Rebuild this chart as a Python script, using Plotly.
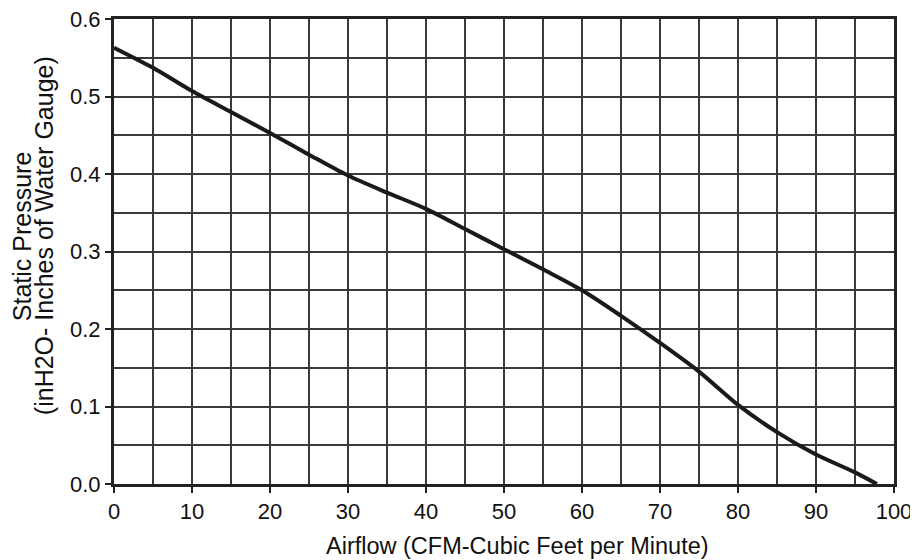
import plotly.graph_objects as go

airflow = [0, 5, 10, 15, 20, 25, 30, 35, 40, 45, 50, 55, 60, 65, 70, 75, 80, 85, 90, 95, 97.8]
pressure = [0.563, 0.537, 0.507, 0.480, 0.453, 0.425, 0.398, 0.376, 0.355, 0.329, 0.303,
            0.277, 0.250, 0.217, 0.182, 0.145, 0.102, 0.067, 0.038, 0.015, 0.0]

x_ticks = [0, 10, 20, 30, 40, 50, 60, 70, 80, 90, 100]
y_ticks = [0.0, 0.1, 0.2, 0.3, 0.4, 0.5, 0.6]
y_tick_labels = ["0.0", "0.1", "0.2", "0.3", "0.4", "0.5", "0.6"]

x_title = "Airflow (CFM-Cubic Feet per Minute)"
y_title_1 = "Static Pressure"
y_title_2 = "(inH2O- Inches of Water Gauge)"

FONT = "Liberation Sans, Arial, Helvetica, sans-serif"
GRID = "#3a3a3a"
AX = "#222222"

fig = go.Figure()
fig.add_trace(go.Scatter(x=airflow, y=pressure, mode="lines",
                         line=dict(color="#1a1a1a", width=4, shape="spline", smoothing=0.8),
                         showlegend=False, hoverinfo="skip"))

# page body has an 8px default margin: compensate so the plot lands at the reference pixels
fig.update_layout(
    width=910, height=552,
    margin=dict(l=106, r=24, t=11, b=76, autoexpand=False),
    paper_bgcolor="white", plot_bgcolor="white",
    font=dict(family=FONT, color="#111111", size=22),
    xaxis=dict(range=[0, 100], tickmode="array", tickvals=x_ticks,
               showgrid=True, gridcolor=GRID, gridwidth=1.5,
               minor=dict(dtick=5, tick0=0, showgrid=True, gridcolor=GRID, gridwidth=1.5),
               showline=True, linecolor=AX, linewidth=3, mirror=True,
               ticks="outside", ticklen=6, tickwidth=1.5, tickcolor=AX, automargin=False,
               ticklabeloverflow="allow",
               zeroline=False, tickfont=dict(size=22, family=FONT)),
    yaxis=dict(range=[0, 0.6], tickmode="array", tickvals=y_ticks, ticktext=y_tick_labels,
               showgrid=True, gridcolor=GRID, gridwidth=1.5,
               minor=dict(dtick=0.05, tick0=0, showgrid=True, gridcolor=GRID, gridwidth=1.5),
               showline=True, linecolor=AX, linewidth=3, mirror=True,
               ticks="outside", ticklen=6, tickwidth=1.5, tickcolor=AX, automargin=False,
               ticklabeloverflow="allow",
               zeroline=False, tickfont=dict(size=22, family=FONT)),
    annotations=[
        dict(text=x_title, xref="paper", yref="paper", x=0.5167, y=0, yshift=-47,
             xanchor="center", yanchor="top", showarrow=False,
             font=dict(size=23.5, family=FONT)),
        dict(text=y_title_1, xref="paper", yref="paper", x=0, xshift=-92, y=0.533,
             xanchor="center", yanchor="middle", textangle=-90, showarrow=False,
             font=dict(size=25, family=FONT)),
        dict(text=y_title_2, xref="paper", yref="paper", x=0, xshift=-70, y=0.533,
             xanchor="center", yanchor="middle", textangle=-90, showarrow=False,
             font=dict(size=25, family=FONT)),
    ],
)

fig.write_html("out.html")
